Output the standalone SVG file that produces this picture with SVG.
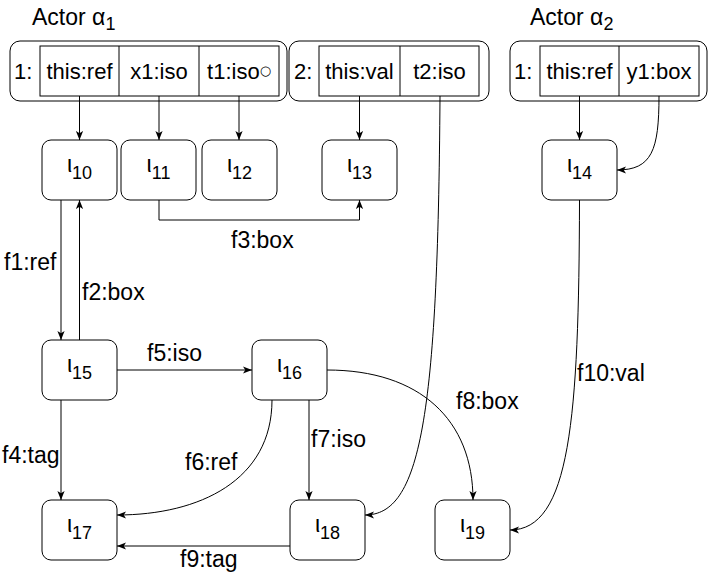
<svg xmlns="http://www.w3.org/2000/svg" width="711" height="579" viewBox="0 0 711 579">
<defs>
<marker id="arr" viewBox="0 0 10 8" refX="10" refY="4" markerWidth="9" markerHeight="7.2" orient="auto" markerUnits="userSpaceOnUse">
<path d="M0,0 L10,4 L0,8 L2.5,4 Z" fill="#000"/>
</marker>
<style>
text{font-family:"Liberation Sans",Arial,Helvetica,sans-serif;font-size:23px;fill:#000}
.c{fill:#fff;stroke:#000;stroke-width:1}
.n{fill:#fff;stroke:#000;stroke-width:1}
.e{fill:none;stroke:#000;stroke-width:1;marker-end:url(#arr)}
.m{text-anchor:middle}
.sub{font-size:18px}
.cell{font-size:22px}
</style>
</defs>
<rect width="711" height="579" fill="#fff"/>

<g id="actor1">
<text x="32" y="25">Actor α<tspan class="sub" dy="5">1</tspan></text>
<rect class="c" x="10" y="41" width="277" height="60" rx="10"/>
<text class="cell" x="14" y="79">1:</text>
<rect class="c" x="40" y="46" width="239" height="50"/>
<line x1="119" y1="46" x2="119" y2="96" stroke="#000"/>
<line x1="199" y1="46" x2="199" y2="96" stroke="#000"/>
<text class="m cell" x="79.5" y="79">this:ref</text>
<text class="m cell" x="159" y="79">x1:iso</text>
<text class="m cell" x="239" y="79">t1:iso<tspan font-size="13" dy="-4" font-family="DejaVu Sans, sans-serif">○</tspan></text>
</g>

<g id="actor1b">
<rect class="c" x="289" y="41" width="200" height="60" rx="10"/>
<text class="cell" x="294" y="79">2:</text>
<rect class="c" x="319" y="46" width="160" height="50"/>
<line x1="400" y1="46" x2="400" y2="96" stroke="#000"/>
<text class="m cell" x="359.5" y="79">this:val</text>
<text class="m cell" x="439.5" y="79">t2:iso</text>
</g>

<g id="actor2">
<text x="530" y="25">Actor α<tspan class="sub" dy="5">2</tspan></text>
<rect class="c" x="510" y="41" width="197" height="60" rx="10"/>
<text class="cell" x="514" y="79">1:</text>
<rect class="c" x="540" y="46" width="159" height="50"/>
<line x1="619" y1="46" x2="619" y2="96" stroke="#000"/>
<text class="m cell" x="579.5" y="79">this:ref</text>
<text class="m cell" x="659" y="79">y1:box</text>
</g>

<g id="l10"><rect class="n" x="42" y="140" width="75" height="60" rx="9"/><text class="m" x="79.5" y="172">ι<tspan class="sub" dy="7">10</tspan></text></g>
<g id="l11"><rect class="n" x="121" y="140" width="75" height="60" rx="9"/><text class="m" x="158.5" y="172">ι<tspan class="sub" dy="7">11</tspan></text></g>
<g id="l12"><rect class="n" x="202" y="140" width="75" height="60" rx="9"/><text class="m" x="239.5" y="172">ι<tspan class="sub" dy="7">12</tspan></text></g>
<g id="l13"><rect class="n" x="322" y="140" width="75" height="60" rx="9"/><text class="m" x="359.5" y="172">ι<tspan class="sub" dy="7">13</tspan></text></g>
<g id="l14"><rect class="n" x="542" y="140" width="75" height="60" rx="9"/><text class="m" x="579.5" y="172">ι<tspan class="sub" dy="7">14</tspan></text></g>
<g id="l15"><rect class="n" x="42" y="340" width="75" height="60" rx="9"/><text class="m" x="79.5" y="372">ι<tspan class="sub" dy="7">15</tspan></text></g>
<g id="l16"><rect class="n" x="252" y="340" width="75" height="60" rx="9"/><text class="m" x="289.5" y="372">ι<tspan class="sub" dy="7">16</tspan></text></g>
<g id="l17"><rect class="n" x="42" y="500" width="75" height="60" rx="9"/><text class="m" x="79.5" y="532">ι<tspan class="sub" dy="7">17</tspan></text></g>
<g id="l18"><rect class="n" x="290" y="500" width="75" height="60" rx="9"/><text class="m" x="327.5" y="532">ι<tspan class="sub" dy="7">18</tspan></text></g>
<g id="l19"><rect class="n" x="435" y="500" width="75" height="60" rx="9"/><text class="m" x="472.5" y="532">ι<tspan class="sub" dy="7">19</tspan></text></g>

<g id="connectors">
<path class="e" d="M79.5,96 V140"/>
<path class="e" d="M159,96 V140"/>
<path class="e" d="M239,96 V140"/>
<path class="e" d="M359.5,96 V140"/>
<path class="e" d="M579.5,96 V140"/>
<path class="e" d="M659,96 C659,150 652,170 617,170"/>
<path class="e" d="M440,96 C438,420 420,515 365,515"/>
<path class="e" d="M61,200 V340"/>
<path class="e" d="M79.5,340 V200"/>
<path class="e" d="M159,200 V220 H359.5 V200"/>
<path class="e" d="M61,400 V500"/>
<path class="e" d="M117,370 H252"/>
<path class="e" d="M272,400 C272,480 200,515 117,515"/>
<path class="e" d="M309,400 V500"/>
<path class="e" d="M327,370 C420,370 473,420 473,500"/>
<path class="e" d="M290,546 H117"/>
<path class="e" d="M579.5,200 C579,420 570,530 510,530"/>
<text x="4" y="270">f1:ref</text>
<text x="82" y="300">f2:box</text>
<text x="231" y="248">f3:box</text>
<text x="2" y="463">f4:tag</text>
<text x="147" y="361">f5:iso</text>
<text x="185" y="470">f6:ref</text>
<text x="311" y="447">f7:iso</text>
<text x="456" y="409">f8:box</text>
<text x="180" y="567">f9:tag</text>
<text x="577" y="381">f10:val</text>
</g>
</svg>
